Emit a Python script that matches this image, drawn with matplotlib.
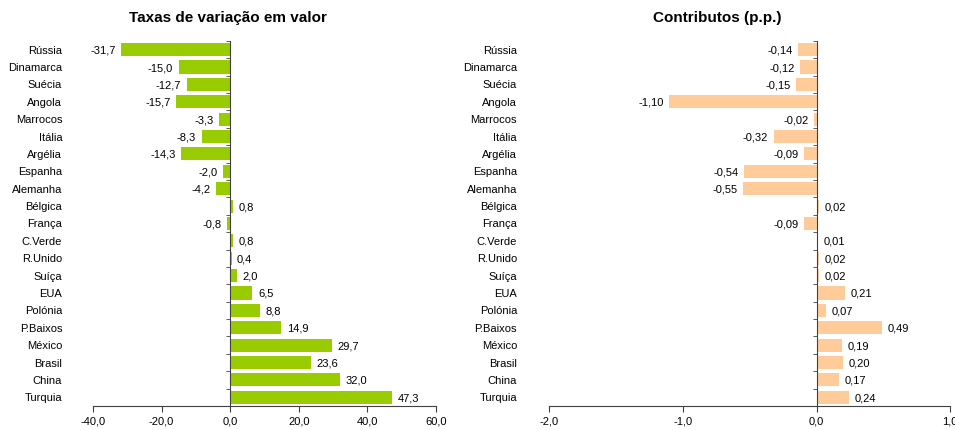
import matplotlib
matplotlib.use("Agg")
from matplotlib import pyplot as plt
import numpy as np

plt.rcParams['font.family'] = ['Liberation Sans', 'DejaVu Sans']

countries = ['Rússia', 'Dinamarca', 'Suécia', 'Angola', 'Marrocos', 'Itália',
             'Argélia', 'Espanha', 'Alemanha', 'Bélgica', 'França', 'C.Verde',
             'R.Unido', 'Suíça', 'EUA', 'Polónia', 'P.Baixos', 'México',
             'Brasil', 'China', 'Turquia']
taxas = [-31.7, -15.0, -12.7, -15.7, -3.3, -8.3, -14.3, -2.0, -4.2, 0.8, -0.8,
         0.8, 0.4, 2.0, 6.5, 8.8, 14.9, 29.7, 23.6, 32.0, 47.3]
contributos = [-0.14, -0.12, -0.15, -1.10, -0.02, -0.32, -0.09, -0.54, -0.55,
               0.02, -0.09, 0.01, 0.02, 0.02, 0.21, 0.07, 0.49, 0.19, 0.20,
               0.17, 0.24]

left_ticks = [-40, -20, 0, 20, 40, 60]
right_ticks = [-2.0, -1.0, 0.0, 1.0]


def comma(v, nd):
    return f"{v:.{nd}f}".replace('.', ',')


def panel(ax, values, color, xlim, ticks, nd, label_x):
    y = np.arange(len(values))
    ax.barh(y, values, height=0.75, color=color, zorder=2)
    ax.set_ylim(len(values) - 0.5, -0.5)
    ax.set_xlim(*xlim)
    for sp in ['top', 'right']:
        ax.spines[sp].set_visible(False)
    ax.spines['left'].set_position(('data', 0))
    ax.spines['left'].set_color('#404040')
    ax.spines['bottom'].set_color('#404040')
    ax.set_yticks([])
    ax.set_yticks(np.arange(len(values) + 1) - 0.5, minor=True)
    ax.tick_params(axis='y', which='minor', length=3, direction='out', color='#404040')
    ax.set_xticks(ticks)
    ax.set_xticklabels([comma(t, 1) for t in ticks], fontsize=8)
    ax.tick_params(axis='x', length=4, direction='out', color='#404040', pad=3)
    for yi, v in zip(y, values):
        if v < 0:
            ax.annotate(comma(v, nd), (v, yi), xytext=(-4, 0), textcoords='offset points',
                        ha='right', va='center', fontsize=8)
        else:
            ax.annotate(comma(v, nd), (v, yi), xytext=(4, 0), textcoords='offset points',
                        ha='left', va='center', fontsize=8)
    for yi, name in zip(y, countries):
        ax.text(label_x, yi, name, transform=ax.get_yaxis_transform(),
                ha='right', va='center', fontsize=8)


fig = plt.figure(figsize=(9.55, 4.31), dpi=100)
ax1 = fig.add_axes([0.0974, 0.0557, 0.359, 0.847])
ax2 = fig.add_axes([0.575, 0.0557, 0.42, 0.847])

panel(ax1, taxas, '#99CC00', (-40, 60), left_ticks, 1, -0.09)
panel(ax2, contributos, '#FFCC99', (-2.0, 1.0), right_ticks, 2, -0.08)

fig.text(228 / 955, 0.958, 'Taxas de variação em valor', ha='center', va='center',
         fontsize=11, fontweight='bold')
fig.text(717 / 955, 0.958, 'Contributos (p.p.)', ha='center', va='center',
         fontsize=11, fontweight='bold')

fig.savefig('out.png', dpi=100)
plt.close(fig)
